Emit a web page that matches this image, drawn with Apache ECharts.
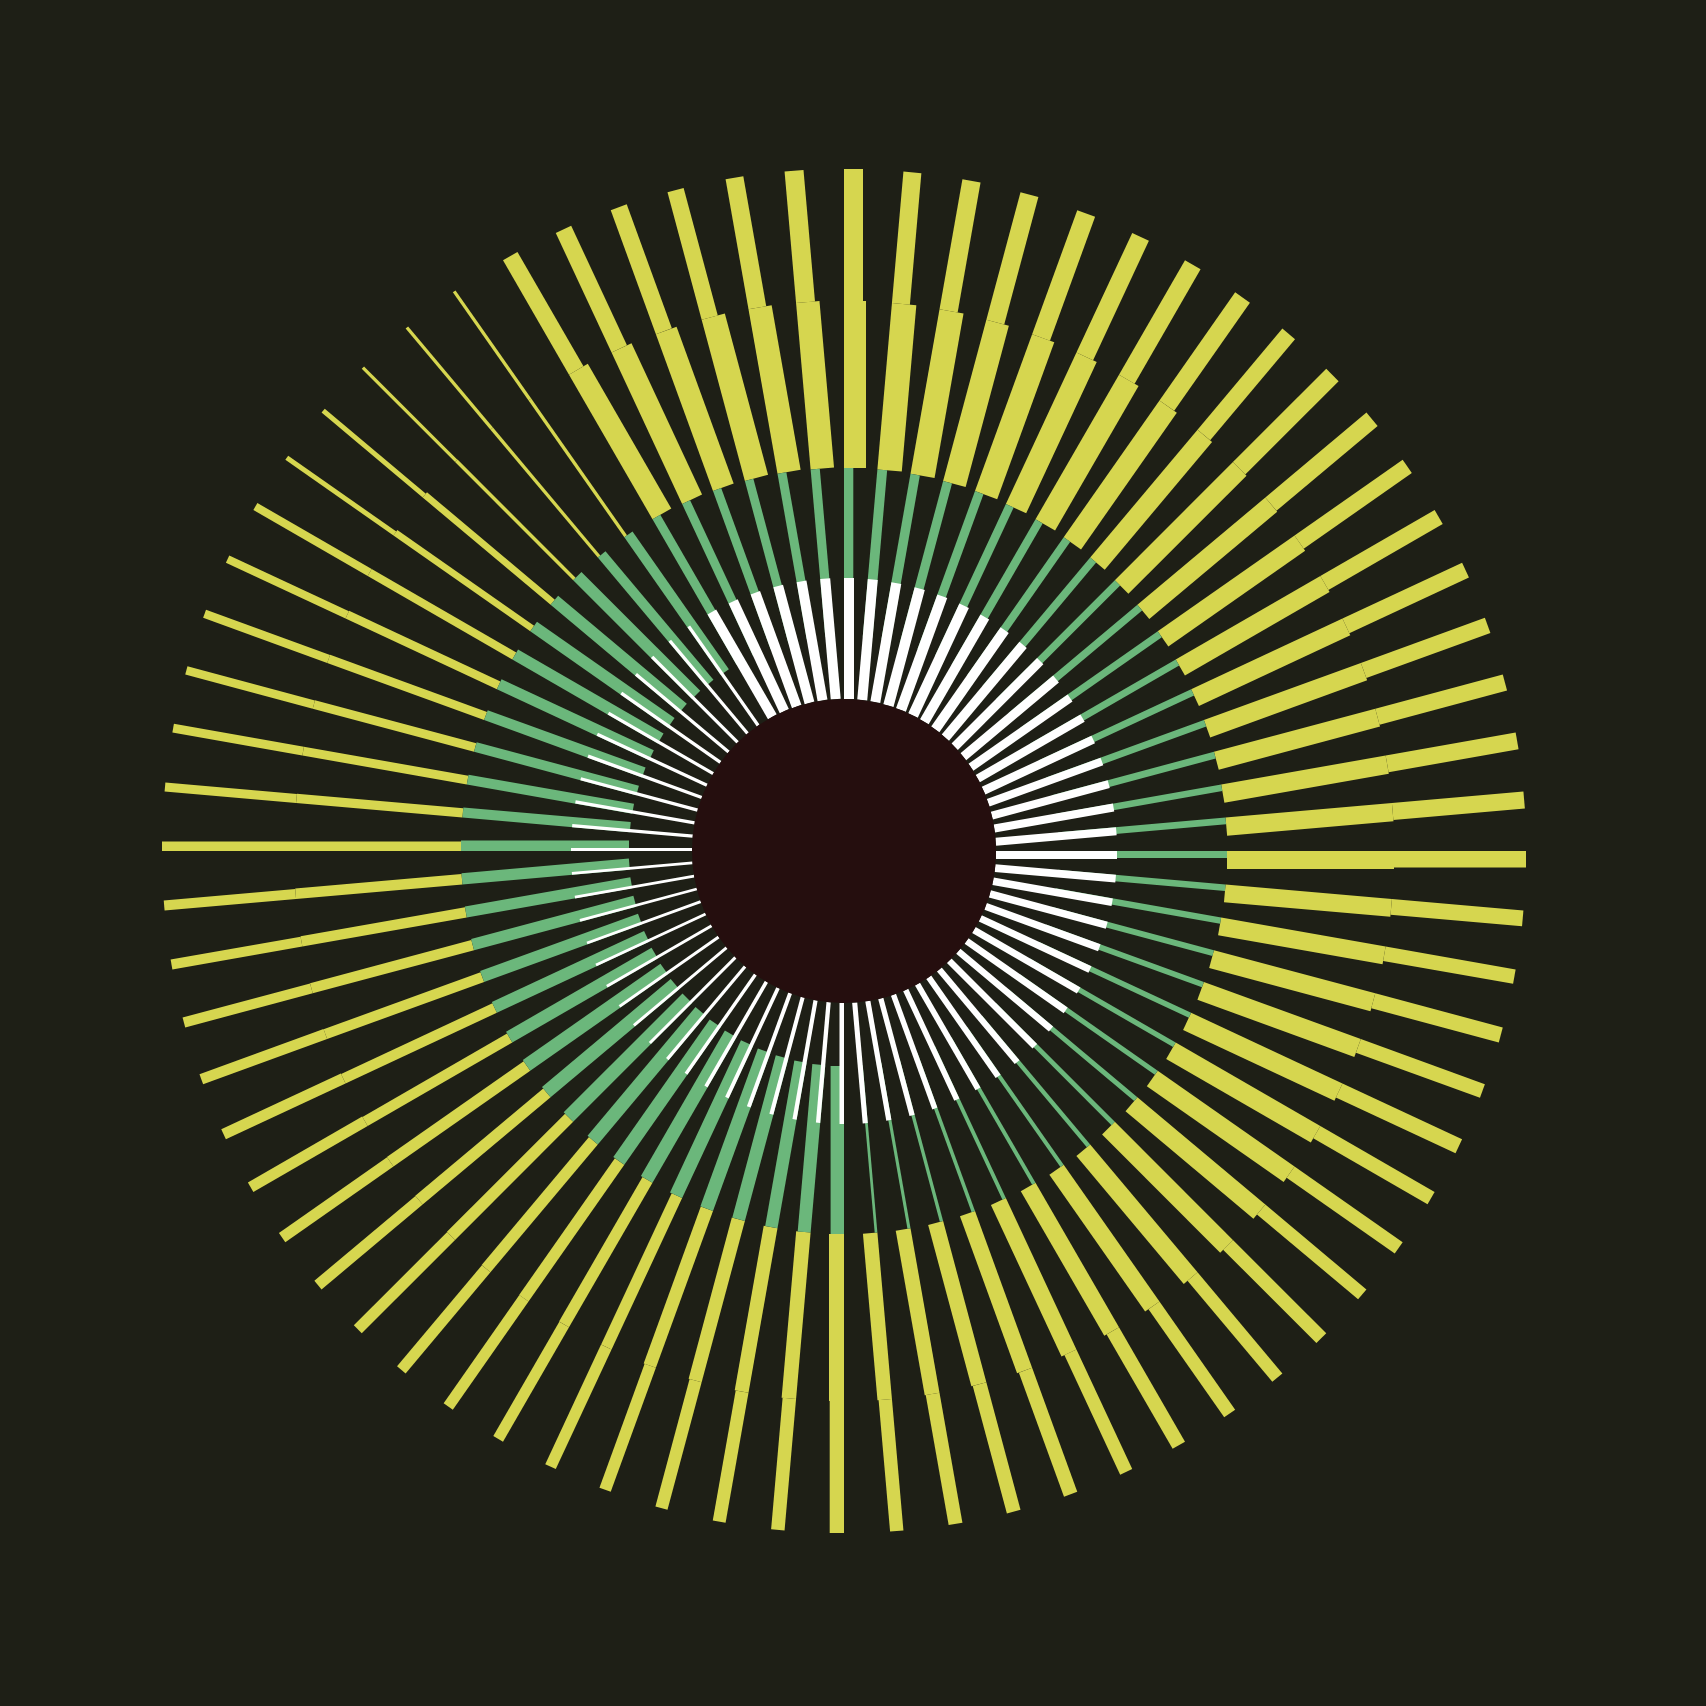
<!DOCTYPE html>
<html>
<head>
<meta charset="utf-8">
<title>Radial spokes</title>
<script src="https://cdn.jsdelivr.net/npm/echarts@6/dist/echarts.min.js"></script>
<style>
    html, body { margin: 0; padding: 0; background: #1e1f16; }
    #chart { width: 1706px; height: 1706px; }
</style>
</head>
<body>
<div id="chart"></div>
<script>
// 72 spokes, clockwise from the top (angle axis in degrees)
var spokeCount = 72;
var spokes = [];
for (var i = 0; i < spokeCount; i++) {
    spokes.push(i * 360 / spokeCount);
}

// ring bounds on the radius axis
var holeEnd = 152;
var whiteRing = [152, 273];
var greenRing = [215, 383];
var yellowInRing = [383, 550];
var yellowOutRing = [550, 682];

// thickness of each piece, in radius-axis units
var whiteWidth = [
    10, 10, 10, 10.5, 10.5, 10.5, 10, 10, 9.5, 9, 9, 8.5,
    8.5, 8.5, 8, 8, 8, 8, 8, 7.8, 7.6, 7.4, 7.2, 7,
    7, 6.8, 6.6, 6.4, 6.2, 6, 5.8, 5.6, 5.4, 5.3, 5.2, 5.1,
    4.5, 4.3, 4.2, 4.1, 4, 3.8, 3.6, 3.4, 3.2, 3, 3, 3,
    2.9, 2.8, 2.8, 2.8, 2.8, 2.8, 3, 3.2, 3.3, 3.3, 3.3, 3.3,
    3.3, 3.3, 3.3, 3.3, 3.3, 3.3, 10, 10, 10, 10, 10, 10
];
var greenWidth = [
    9.3, 9.8, 9.5, 9.2, 9, 8.6, 8.3, 8, 7.8, 7.5, 7.3, 7.1,
    7, 7, 6.9, 6.8, 6.7, 6.7, 7, 6.6, 6.3, 6, 5.7, 5.4,
    5.3, 5.1, 5, 4.7, 4.4, 4, 3.9, 3.8, 3.6, 3.4, 3.1, 2.7,
    13.4, 13, 12.5, 13, 13.4, 13.4, 13.4, 13.4, 13.4, 13.4, 13.4, 13,
    12.5, 12, 11.6, 11.4, 11.2, 11.2, 10.5, 10.2, 10, 10, 10.5, 11,
    11.5, 11.7, 11.7, 11.7, 10, 10, 9, 8.8, 8.7, 8.8, 9, 9.2
];
var yellowInWidth = [
    22, 24.5, 24.4, 23.3, 23.6, 22.4, 22.6, 21.2, 19, 19.2, 18.5, 18.5,
    18.5, 18.5, 18.5, 18.5, 18.5, 18.3, 18, 18, 18, 18.5, 19, 19,
    19, 19, 18.5, 18, 18, 17.5, 17, 16.5, 16, 15.5, 15, 14.5,
    15, 14.5, 14, 13.5, 13, 11.5, 11.5, 11.5, 11.5, 11.5, 11.5, 11.5,
    10.5, 10.5, 10.5, 10.5, 10.5, 10.5, 9.5, 9.3, 9, 8.8, 8.6, 8.5,
    8, 6.7, 6.7, 3.5, 3.3, 3.3, 21.7, 22, 22, 24, 23.5, 23.5
];
var yellowOutWidth = [
    19, 18, 18.4, 18.5, 19, 18.4, 18, 18, 16.5, 17.5, 17.4, 16,
    16.2, 16.2, 16.2, 16.6, 16.9, 17, 16.5, 15.8, 14.6, 15.4, 14.4, 15.6,
    14.2, 13.8, 13, 13.9, 13.1, 13.4, 14.3, 13.3, 14.1, 14.1, 14, 13.4,
    14.3, 13.5, 13, 12.5, 12, 11.6, 11.2, 11.2, 11.2, 11.2, 11.2, 11.2,
    11, 11, 10.7, 10.3, 10, 10, 9.5, 9, 9, 8.5, 8.5, 8,
    8, 5, 5, 3.3, 3.3, 3.3, 16.7, 17, 17, 16.7, 18, 19
];

var myChart = echarts.init(document.getElementById('chart'));

// one ring of straight bars; each bar's leading edge lies on its spoke
// and the bar grows clockwise by its thickness
function ringSeries(name, color, ring, widths, z) {
    return {
        name: name,
        type: 'custom',
        coordinateSystem: 'polar',
        silent: true,
        z: z,
        data: spokes.map(function (a, i) {
            return [ring[1], a, widths[i]];
        }),
        renderItem: function (params, api) {
            var a = api.value(1);
            var w = api.size([api.value(2), 0], [ring[0], a])[0];
            var p = api.coord([ring[0], a]);
            var q = api.coord([ring[1], a]);
            var nx = Math.sin(p[3]);
            var ny = Math.cos(p[3]);
            return {
                type: 'polygon',
                shape: {
                    points: [
                        [p[0], p[1]],
                        [q[0], q[1]],
                        [q[0] + w * nx, q[1] + w * ny],
                        [p[0] + w * nx, p[1] + w * ny]
                    ]
                },
                style: { fill: color }
            };
        }
    };
}

var option = {
    backgroundColor: '#1e1f16',
    animation: false,
    polar: {
        center: [844, 851],
        radius: [0, 682]
    },
    angleAxis: {
        type: 'value',
        min: 0,
        max: 360,
        startAngle: 90,
        clockwise: true,
        show: false
    },
    radiusAxis: {
        type: 'value',
        min: 0,
        max: 682,
        show: false
    },
    series: [
        ringSeries('yellowOut', '#d6d64f', yellowOutRing, yellowOutWidth, 2),
        ringSeries('yellowIn', '#d6d64f', yellowInRing, yellowInWidth, 2),
        ringSeries('green', '#6bb77b', greenRing, greenWidth, 3),
        ringSeries('white', '#ffffff', whiteRing, whiteWidth, 4),
        { // centre disc
            name: 'hole',
            type: 'custom',
            coordinateSystem: 'polar',
            silent: true,
            z: 5,
            data: [[holeEnd, 0]],
            renderItem: function (params, api) {
                var p = api.coord([api.value(0), api.value(1)]);
                return {
                    type: 'circle',
                    shape: { cx: params.coordSys.cx, cy: params.coordSys.cy, r: p[2] },
                    style: { fill: '#250e0e' }
                };
            }
        }
    ]
};
myChart.setOption(option);
</script>
</body>
</html>
